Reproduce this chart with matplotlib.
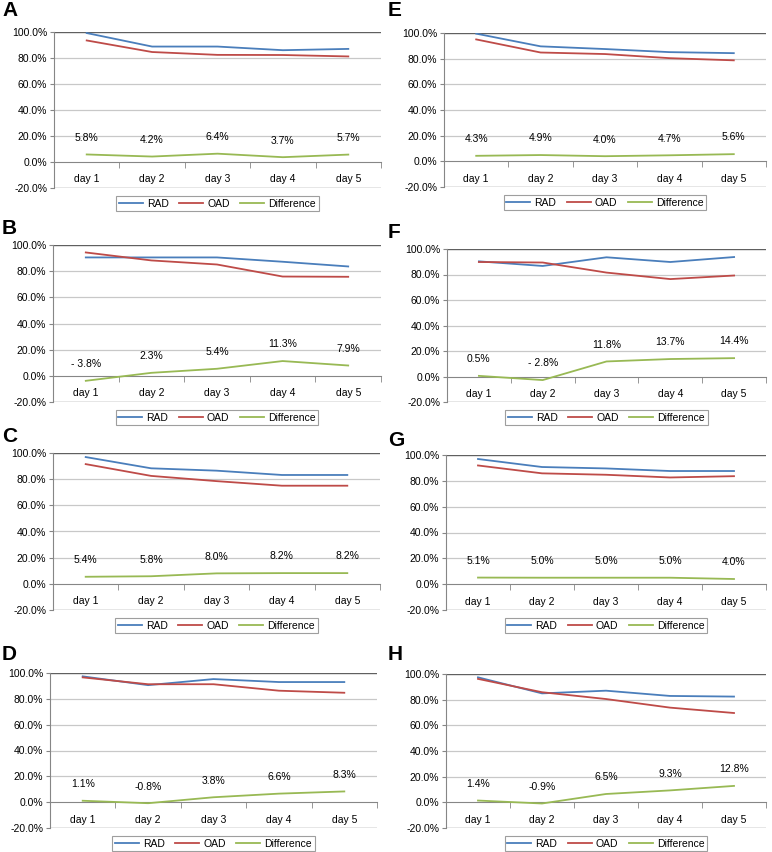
import numpy as np
import matplotlib
matplotlib.use("Agg")
import matplotlib.pyplot as plt

plt.rcParams['font.family'] = ['Liberation Sans', 'DejaVu Sans']

days = ["day 1", "day 2", "day 3", "day 4", "day 5"]
panel_names = ["A", "B", "C", "D", "E", "F", "G", "H"]

# RAD / OAD success rates (%) and their difference
rad_A = [99.2, 88.8, 88.8, 86.0, 87.0]
oad_A = [93.5, 84.6, 82.4, 82.3, 81.2]
diff_A = [5.8, 4.2, 6.4, 3.7, 5.7]

rad_B = [90.5, 90.5, 90.5, 87.2, 83.6]
oad_B = [94.3, 88.2, 85.1, 75.9, 75.7]
diff_B = [-3.8, 2.3, 5.4, 11.3, 7.9]

rad_C = [96.9, 88.3, 86.5, 83.2, 83.2]
oad_C = [91.5, 82.5, 78.5, 75.0, 75.0]
diff_C = [5.4, 5.8, 8.0, 8.2, 8.2]

rad_D = [97.4, 90.6, 95.3, 93.0, 93.0]
oad_D = [96.6, 91.3, 91.3, 86.3, 84.7]
diff_D = [1.1, -0.8, 3.8, 6.6, 8.3]

rad_E = [99.5, 89.6, 87.5, 85.1, 84.3]
oad_E = [95.0, 84.8, 83.6, 80.4, 78.7]
diff_E = [4.3, 4.9, 4.0, 4.7, 5.6]

rad_F = [90.3, 86.7, 93.5, 89.8, 93.7]
oad_F = [89.8, 89.4, 81.5, 76.4, 79.2]
diff_F = [0.5, -2.8, 11.8, 13.7, 14.4]

rad_G = [96.9, 90.7, 89.6, 87.6, 87.6]
oad_G = [91.9, 85.8, 84.7, 82.6, 83.6]
diff_G = [5.1, 5.0, 5.0, 5.0, 4.0]

rad_H = [97.4, 84.9, 87.0, 82.9, 82.4]
oad_H = [96.2, 85.8, 80.5, 73.8, 69.6]
diff_H = [1.4, -0.9, 6.5, 9.3, 12.8]

rad_all = [rad_A, rad_B, rad_C, rad_D, rad_E, rad_F, rad_G, rad_H]
oad_all = [oad_A, oad_B, oad_C, oad_D, oad_E, oad_F, oad_G, oad_H]
diff_all = [diff_A, diff_B, diff_C, diff_D, diff_E, diff_F, diff_G, diff_H]

# axes boxes in pixels: left, right, top, bottom
W, H = 772, 852
boxes = [(54, 381, 32, 188), (53, 381, 245, 402), (53, 380, 453, 610), (50, 377, 673, 828),
         (444, 766, 33, 187), (447, 766, 249, 402), (446, 766, 455, 610), (446, 766, 674, 828)]
label_pos = [(2, 11), (2, 228), (2, 437), (2, 654), (388, 11), (388, 233), (388, 440), (388, 655)]

c_rad = '#4a7ebb'
c_oad = '#be4b48'
c_diff = '#98b954'

fig = plt.figure(figsize=(W/100, H/100), dpi=100)
x = np.arange(1, 6)

for i, name in enumerate(panel_names):
    l, r, t, b = boxes[i]
    ax = fig.add_axes([l/W, 1 - b/H, (r-l)/W, (b-t)/H])
    ax.set_xlim(0.5, 5.5)
    ax.set_ylim(-20, 100)

    # gridlines
    for g in [20, 40, 60, 80]:
        ax.axhline(g, color='#c8c8c8', lw=0.9, zorder=0)
    ax.axhline(100, color='#606060', lw=1.0, zorder=0)
    ax.axhline(-20, color='#808080', lw=1.0, zorder=0)

    ax.plot(x, rad_all[i], color=c_rad, lw=1.3, label='RAD', zorder=3)
    ax.plot(x, oad_all[i], color=c_oad, lw=1.3, label='OAD', zorder=3)
    ax.plot(x, diff_all[i], color=c_diff, lw=1.3, label='Difference', zorder=3)

    for xi, d in zip(x, diff_all[i]):
        lab = f"{d:.1f}%"
        if d < 0 and name in ("B", "F"):
            lab = "- " + f"{abs(d):.1f}%"
        ax.annotate(lab, (xi, d), xytext=(0, 12), textcoords='offset points',
                    ha='center', va='center', fontsize=7.5)

    for s in ['top', 'right']:
        ax.spines[s].set_visible(False)
    ax.spines['left'].set_color('#868686')
    ax.spines['bottom'].set_position(('data', 0))
    ax.spines['bottom'].set_color('#868686')

    ax.set_yticks([-20, 0, 20, 40, 60, 80, 100])
    ax.set_yticklabels([f"{v:.1f}%" for v in [-20, 0, 20, 40, 60, 80, 100]])
    ax.tick_params(axis='y', labelsize=7.5, length=3, color='#868686', pad=2)

    ax.set_xticks(x)
    ax.set_xticklabels(days)
    ax.set_xticks(np.arange(0.5, 6, 1), minor=True)
    ax.tick_params(axis='x', which='major', length=0, labelsize=7.5, pad=9)
    ax.tick_params(axis='x', which='minor', length=4, color='#868686', direction='out')

    leg = ax.legend(loc='upper center', bbox_to_anchor=(0.5, -8/(b-t)), ncol=3, fontsize=7.5,
                    frameon=True, fancybox=False, edgecolor='#868686', borderpad=0.25,
                    borderaxespad=0, handlelength=2.3, columnspacing=1.0, handletextpad=0.4)
    leg.get_frame().set_linewidth(0.8)

    lx, ly = label_pos[i]
    fig.text(lx/W, 1 - ly/H, name, fontsize=15, fontweight='bold', ha='left', va='center')

fig.savefig("out.png", dpi=100)
